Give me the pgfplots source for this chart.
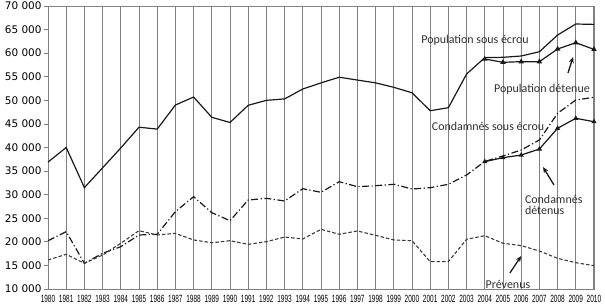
\documentclass[border=0pt]{standalone}
\usepackage{fontspec}
\usepackage{graphicx}
\usepackage{pgfplots}
\pgfplotsset{compat=1.18}
\usetikzlibrary{arrows.meta}
\setmainfont{Carlito}
\newfontfamily\ytfont{DejaVu Sans}
\newfontfamily\xtfont{Liberation Sans}
\definecolor{gridgray}{RGB}{128,128,128}
\definecolor{ln}{RGB}{25,25,25}
\pgfplotstableread{
year pse cse prev
1980 36900 20240 16150
1981 40000 22150 17350
1982 31500 15450 15450
1983 35700 17570 17200
1984 39900 18970 19700
1985 44300 21450 22360
1986 43900 21600 21450
1987 49000 26400 21800
1988 50700 29570 20400
1989 46400 26180 19800
1990 45300 24480 20240
1991 48950 28870 19470
1992 50000 29220 20030
1993 50300 28660 21020
1994 52400 31260 20600
1995 53700 30500 22650
1996 54900 32750 21600
1997 54300 31690 22300
1998 53700 31900 21380
1999 52760 32200 20400
2000 51600 31200 20240
2001 47800 31480 15800
2002 48440 32200 15800
2003 55580 34170 20540
2004 59050 37050 21300
2005 59120 38200 19690
2006 59400 39470 19200
2007 60300 41600 18050
2008 63850 47250 16500
2009 66180 50070 15580
2010 66100 50640 14940
}\main
\pgfplotstableread{
year pd cd
2004 58760 37000
2005 58060 37840
2006 58200 38400
2007 58200 39680
2008 60880 44070
2009 62220 46190
2010 60800 45470
}\det
\begin{document}
\begin{tikzpicture}
\begin{axis}[
  at={(0,0)}, anchor=south west,
  scale only axis, width=546bp, height=283bp,
  xmin=1980, xmax=2010, ymin=10000, ymax=70000,
  xtick={1980,...,2010},
  ytick={10000,15000,...,70000},
  scaled y ticks=false,
  xmajorgrids, major grid style={draw=gridgray, line width=0.9pt},
  axis line style={draw=gridgray, line width=0.9pt},
  x tick style={draw=none},
  ytick pos=left, y tick style={draw=gridgray, line width=0.8pt},
  tick align=outside, major tick length=4bp,
  xticklabel={\scalebox{0.62}[1]{\xtfont\fontsize{10.5}{10.5}\selectfont\pgfmathprintnumber[1000 sep={},assume math mode=true]{\tick}}},
  xticklabel style={yshift=1bp},
  yticklabel style={font=\ytfont\fontsize{10.5}{11}\selectfont, xshift=1bp},
  y tick label style={/pgf/number format/1000 sep={\ }, /pgf/number format/assume math mode=true},
  clip=false,
]
\addplot[ln, line width=1.2pt] table[x=year,y=pse]{\main};
\addplot[ln, line width=1.2pt, dash pattern=on 7bp off 2.5bp on 1.2bp off 2.5bp] table[x=year,y=cse]{\main};
\addplot[ln!85, line width=1.1pt, dash pattern=on 3.5bp off 2bp] table[x=year,y=prev]{\main};
\addplot[ln, line width=1.2pt, mark=triangle*, mark size=2bp] table[x=year,y=pd]{\det};
\addplot[ln, line width=1.2pt, mark=triangle*, mark size=1.8bp] table[x=year,y=cd]{\det};
\begin{scope}[font=\fontsize{12}{13}\selectfont, text=ln!90]
\node at (axis cs:2003.46,62800) {Population sous écrou};
\node at (axis cs:2007.14,52400) {Population détenue};
\node at (axis cs:2004.18,44560) {Condamnés sous écrou};
\node[anchor=west, align=left, inner sep=0pt] at (axis cs:2006.2,27800) {Condamnés\\[-1.5bp]détenus};
\node at (axis cs:2005.27,11060) {Prévenus};
\end{scope}
\draw[ln, line width=1.3pt, -{Stealth[length=6bp,width=5bp]}] (axis cs:2008.57,55800) -- (axis cs:2008.85,59180);
\draw[ln, line width=1.3pt, -{Stealth[length=6bp,width=5bp]}] (axis cs:2007.8,32050) -- (axis cs:2007.2,35860);
\draw[ln, line width=1.3pt, -{Stealth[length=6bp,width=5bp]}] (axis cs:2005.38,13400) -- (axis cs:2006.0,17000);
\end{axis}
\pgfresetboundingbox
\useasboundingbox (-48bp,-18bp) rectangle (557bp,289bp);
\end{tikzpicture}
\end{document}
